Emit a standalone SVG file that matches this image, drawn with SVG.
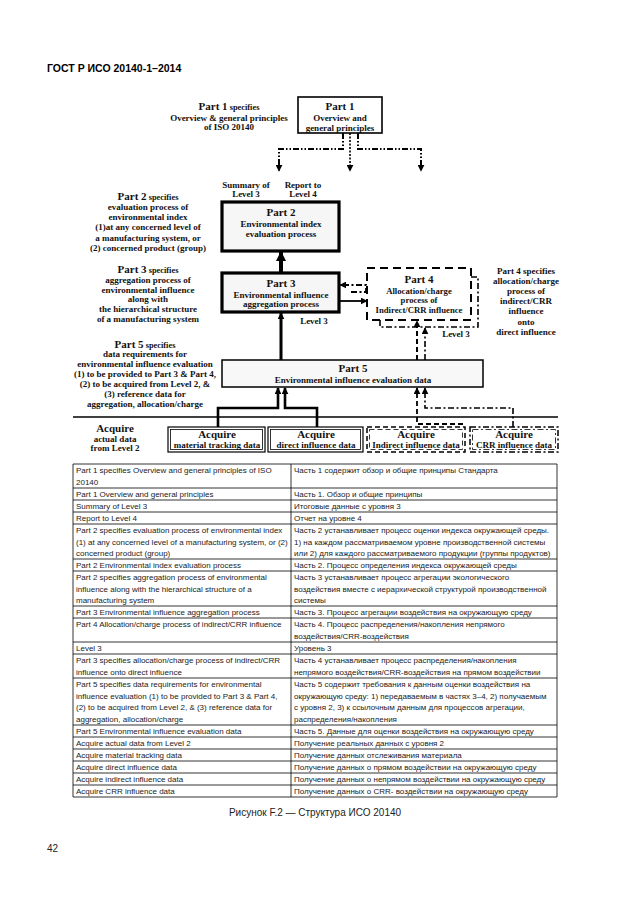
<svg xmlns="http://www.w3.org/2000/svg" width="630" height="913" viewBox="0 0 630 913">
<defs>
<marker id="ah" viewBox="0 0 10 10" refX="9" refY="5" markerWidth="7" markerHeight="7" markerUnits="userSpaceOnUse" orient="auto"><path d="M0,0 L10,5 L0,10 z" fill="#000"/></marker>
<marker id="ahb" viewBox="0 0 10 10" refX="9" refY="5" markerWidth="10" markerHeight="10" markerUnits="userSpaceOnUse" orient="auto"><path d="M0,0 L10,5 L0,10 z" fill="#000"/></marker>
</defs>
<style>
.d{font-family:"Liberation Serif","Times New Roman",serif;font-weight:bold;fill:#111;text-anchor:middle}
.t{font-size:9px}
.t4{font-size:8.7px}
.h{font-size:11px}
.s{font-size:8.4px}
.tb{font-family:"Liberation Sans",Arial,sans-serif;font-size:8px;fill:#222}
.ln{stroke:#000;stroke-width:0.8;fill:none}
.dd{stroke:#000;stroke-dasharray:6 2 1.5 2 1.5 2}
.da{stroke:#000;stroke-dasharray:5 3}
.dt{stroke:#000;stroke-dasharray:6 2.5 2 2.5}
.nf{fill:none}
.wf{fill:#fff}
</style>
<rect width="630" height="913" fill="#fff"/>
<text x="47" y="72" font-family="Liberation Sans,Arial,sans-serif" font-weight="bold" font-size="10.5">ГОСТ Р ИСО 20140-1–2014</text>

<g id="ann1" class="d">
<text x="229" y="110"><tspan class="h">Part 1</tspan><tspan class="s"> specifies</tspan></text>
<text x="229" y="120.5" class="t">Overview &amp; general principles</text>
<text x="229" y="130" class="t">of ISO 20140</text>
</g>
<g id="part1">
<rect x="298" y="97" width="84" height="36" fill="#fff" stroke="#000" stroke-width="1.6"/>
<text class="d h" x="340" y="110">Part 1</text>
<text class="d t" x="340" y="121">Overview and</text>
<text class="d t" x="340" y="130.5">general principles</text>
</g>
<g id="lbl-summary" class="d t">
<text x="246" y="188">Summary of</text>
<text x="246" y="197">Level 3</text>
</g>
<g id="lbl-report" class="d t">
<text x="303" y="188">Report to</text>
<text x="303" y="197">Level 4</text>
</g>
<g id="ann2" class="d">
<text x="148" y="200"><tspan class="h">Part 2</tspan><tspan class="s"> specifies</tspan></text>
<text x="148" y="210" class="t">evaluation  process of</text>
<text x="148" y="220" class="t">environmental index</text>
<text x="148" y="230" class="t">(1)at any concerned level of</text>
<text x="148" y="241" class="t">a manufacturing system, or</text>
<text x="148" y="251" class="t">(2) concerned product (group)</text>
</g>
<g id="part2">
<rect x="222" y="202" width="117" height="49" fill="#f6f6f6" stroke="#000" stroke-width="3.2"/>
<text class="d h" x="281" y="216">Part 2</text>
<text class="d t" x="281" y="226.5">Environmental index</text>
<text class="d t" x="281" y="236.5">evaluation process</text>
</g>
<g id="ann3" class="d">
<text x="148" y="273"><tspan class="h">Part 3</tspan><tspan class="s"> specifies</tspan></text>
<text x="148" y="283" class="t">aggregation  process of</text>
<text x="148" y="293" class="t">environmental influence</text>
<text x="148" y="302" class="t">along with</text>
<text x="148" y="312" class="t">the hierarchical structure</text>
<text x="148" y="322" class="t">of a manufacturing system</text>
</g>
<g id="part3">
<rect x="222" y="273" width="117" height="39" fill="#f6f6f6" stroke="#000" stroke-width="3.2"/>
<text class="d h" x="281" y="287">Part 3</text>
<text class="d t" x="281" y="297.5">Environmental influence</text>
<text class="d t" x="281" y="307">aggregation process</text>
</g>
<g id="lbl-level3a" class="d t"><text x="314" y="324">Level 3</text></g>
<g id="part4">
<rect x="380" y="277" width="98" height="50" class="dt nf" stroke-width="1.6"/>
<rect x="367" y="268" width="104" height="52" class="da wf" stroke-width="2" style="stroke-dasharray:8 5"/>
<text class="d h" x="419" y="283">Part 4</text>
<text class="d t4" x="419" y="293.5">Allocation/charge</text>
<text class="d t4" x="419" y="303">process of</text>
<text class="d t4" x="419" y="312.5">Indirect/CRR influence</text>
</g>
<g id="lbl-level3b" class="d t"><text x="456" y="337">Level 3</text></g>
<g id="ann4" class="d t">
<text x="526" y="274">Part 4  specifies</text>
<text x="526" y="284">allocation/charge</text>
<text x="526" y="294">process of</text>
<text x="526" y="304">indirect/CRR</text>
<text x="526" y="314">influence</text>
<text x="526" y="325">onto</text>
<text x="526" y="335">direct influence</text>
</g>
<g id="ann5" class="d">
<text x="145" y="348"><tspan class="h">Part 5</tspan><tspan class="s"> specifies</tspan></text>
<text x="145" y="356.5" class="t">data requirements for</text>
<text x="145" y="366.5" class="t">environmental  influence evaluation</text>
<text x="145" y="376.5" class="t">(1) to be provided to Part 3 &amp; Part 4,</text>
<text x="145" y="386.5" class="t">(2) to be acquired from Level 2, &amp;</text>
<text x="145" y="396.5" class="t">(3) reference data for</text>
<text x="145" y="406.5" class="t">aggregation, allocation/charge</text>
</g>
<g id="part5">
<rect x="222" y="360" width="261" height="27" fill="#f8f8f8" stroke="#000" stroke-width="1.5"/>
<text class="d h" x="353" y="372">Part 5</text>
<text class="d t" x="353" y="382.5">Environmental influence evaluation data</text>
</g>
<line x1="73" y1="417" x2="558" y2="417" stroke="#000" stroke-width="1.6"/>
<g id="ann-acq" class="d">
<text x="115" y="432" class="h" font-size="9.5">Acquire</text>
<text x="115" y="442" class="t">actual data</text>
<text x="115" y="451" class="t">from Level 2</text>
</g>
<g id="acq1">
<rect x="168" y="427" width="97" height="25" fill="#fff" stroke="#000" stroke-width="1.2"/>
<rect x="170.5" y="429.5" width="92" height="20" fill="none" stroke="#000" stroke-width="0.8"/>
<text class="d h" x="217" y="438">Acquire</text>
<text class="d t" x="217" y="447.5">material tracking data</text>
</g>
<g id="acq2">
<rect x="268" y="427" width="95" height="25" fill="#fff" stroke="#000" stroke-width="1.2"/>
<rect x="270.5" y="429.5" width="90" height="20" fill="none" stroke="#000" stroke-width="0.8"/>
<text class="d h" x="316" y="438">Acquire</text>
<text class="d t" x="316" y="447.5">direct influence data</text>
</g>
<g id="acq3">
<rect x="367" y="427" width="98" height="25" class="da wf" stroke-width="1.5"/>
<rect x="369.5" y="429.5" width="93" height="20" class="da nf" stroke-width="0.8"/>
<text class="d h" x="416" y="438">Acquire</text>
<text class="d t" x="416" y="447.5">Indirect influence data</text>
</g>
<g id="acq4">
<rect x="470" y="427" width="88" height="25" class="dt wf" stroke-width="1.5"/>
<rect x="472.5" y="429.5" width="83" height="20" class="dt nf" stroke-width="0.8"/>
<text class="d h" x="514" y="438">Acquire</text>
<text class="d t" x="514" y="447.5">CRR influence data</text>
</g>

<g id="connectors">
<path d="M343 133 V149 H279 V171" class="dd nf" stroke-width="2" marker-end="url(#ah)"/>
<path d="M350 133 V171" stroke="#000" fill="none" stroke-width="1.6" stroke-dasharray="2 1.5" marker-end="url(#ah)"/>
<path d="M358 133 V149 H421 V171" class="dd nf" stroke-width="2" marker-end="url(#ah)"/>
<path d="M281 273 V252" stroke="#000" stroke-width="4" fill="none" marker-end="url(#ahb)"/>
<path d="M281 360 V313" stroke="#000" stroke-width="3" fill="none" marker-end="url(#ah)"/>
<path d="M340 301 H367" stroke="#000" stroke-width="1.8" fill="none" marker-end="url(#ah)"/>
<path d="M351 292 H366 V285 H340" class="dt nf" stroke-width="1.8" marker-end="url(#ah)"/>
<path d="M417 360 V321" class="da nf" stroke-width="2" marker-end="url(#ah)"/>
<path d="M425 360 V328" class="dt nf" stroke-width="1.6" marker-end="url(#ah)"/>
<path d="M218 427 V408 H278 V388" stroke="#000" stroke-width="2.6" fill="none" marker-end="url(#ah)"/>
<path d="M317 427 V408 H285 V388" stroke="#000" stroke-width="2.6" fill="none" marker-end="url(#ah)"/>
<path d="M463 424 H417 V388" class="da nf" stroke-width="1.8" marker-end="url(#ah)"/>
<path d="M513 427 V408 H425 V388" class="dt nf" stroke-width="1.6" marker-end="url(#ah)"/>
</g>

<g id="table">
<path class="ln" d="M73 464 V797 M291 464 V797 M557 464 V797 M73 464 H557 M73 488 H557 M73 500 H557 M73 512 H557 M73 524 H557 M73 559 H557 M73 571 H557 M73 606 H557 M73 618 H557 M73 642 H557 M73 654 H557 M73 678 H557 M73 725 H557 M73 737 H557 M73 749 H557 M73 761 H557 M73 773 H557 M73 785 H557 M73 797 H557"/>
<g class="tb">
<text x="76" y="473">Part 1 specifies Overview and general principles of ISO</text>
<text x="76" y="484.5">20140</text>
<text x="76" y="497">Part 1 Overview and general principles</text>
<text x="76" y="509">Summary of Level 3</text>
<text x="76" y="521">Report to Level 4</text>
<text x="76" y="533">Part 2 specifies evaluation process of environmental index</text>
<text x="76" y="544.5">(1) at any concerned level of a manufacturing system, or (2)</text>
<text x="76" y="556">concerned product (group)</text>
<text x="76" y="568">Part 2 Environmental index evaluation process</text>
<text x="76" y="580">Part 2 specifies aggregation process of environmental</text>
<text x="76" y="591.5">influence along with the hierarchical structure of a</text>
<text x="76" y="603">manufacturing system</text>
<text x="76" y="615">Part 3 Environmental influence aggregation process</text>
<text x="76" y="627">Part 4 Allocation/charge process of indirect/CRR influence</text>
<text x="76" y="651">Level 3</text>
<text x="76" y="663">Part 3 specifies allocation/charge process of indirect/CRR</text>
<text x="76" y="674.5">influence onto direct influence</text>
<text x="76" y="687">Part 5 specifies data requirements for environmental</text>
<text x="76" y="698.5">influence evaluation (1) to be provided to Part 3 &amp; Part 4,</text>
<text x="76" y="710">(2) to be acquired from Level 2, &amp; (3) reference data for</text>
<text x="76" y="721.5">aggregation, allocation/charge</text>
<text x="76" y="734">Part 5 Environmental influence evaluation data</text>
<text x="76" y="746">Acquire actual data from Level 2</text>
<text x="76" y="758">Acquire material tracking data</text>
<text x="76" y="770">Acquire direct influence data</text>
<text x="76" y="782">Acquire indirect influence data</text>
<text x="76" y="794">Acquire CRR influence data</text>

<text x="294" y="473">Часть 1 содержит обзор и общие принципы Стандарта</text>
<text x="294" y="497">Часть 1. Обзор и общие принципы</text>
<text x="294" y="509">Итоговые данные с уровня 3</text>
<text x="294" y="521">Отчет на уровне 4</text>
<text x="294" y="533">Часть 2 устанавливает процесс оценки индекса окружающей среды.</text>
<text x="294" y="544.5">1) на каждом рассматриваемом уровне производственной системы</text>
<text x="294" y="556">или 2) для каждого рассматриваемого продукции (группы продуктов)</text>
<text x="294" y="568">Часть 2. Процесс определения индекса окружающей среды</text>
<text x="294" y="580">Часть 3 устанавливает процесс агрегации экологического</text>
<text x="294" y="591.5">воздействия вместе с иерархической структурой производственной</text>
<text x="294" y="603">системы</text>
<text x="294" y="615">Часть 3. Процесс агрегации воздействия на окружающую среду</text>
<text x="294" y="627">Часть 4. Процесс распределения/накопления непрямого</text>
<text x="294" y="638.5">воздействия/CRR-воздействия</text>
<text x="294" y="651">Уровень 3</text>
<text x="294" y="663">Часть 4 устанавливает процесс распределения/накопления</text>
<text x="294" y="674.5">непрямого воздействия/CRR-воздействия на прямом воздействии</text>
<text x="294" y="687">Часть 5 содержит требования к данным оценки воздействия на</text>
<text x="294" y="698.5">окружающую среду: 1) передаваемым в частях 3–4, 2) получаемым</text>
<text x="294" y="710">с уровня 2, 3) к ссылочным данным для процессов агрегации,</text>
<text x="294" y="721.5">распределения/накопления</text>
<text x="294" y="734">Часть 5. Данные для оценки воздействия на окружающую среду</text>
<text x="294" y="746">Получение реальных данных с уровня 2</text>
<text x="294" y="758">Получение данных отслеживания материала</text>
<text x="294" y="770">Получение данных о прямом воздействии на окружающую среду</text>
<text x="294" y="782">Получение данных о непрямом воздействии на окружающую среду</text>
<text x="294" y="794">Получение данных о CRR- воздействии на окружающую среду</text>
</g>
</g>
<text x="315" y="816" text-anchor="middle" font-family="Liberation Sans,Arial,sans-serif" font-size="10" fill="#222">Рисунок F.2 — Структура ИСО 20140</text>
<text x="47" y="852" font-family="Liberation Sans,Arial,sans-serif" font-size="10" fill="#222">42</text>
</svg>
